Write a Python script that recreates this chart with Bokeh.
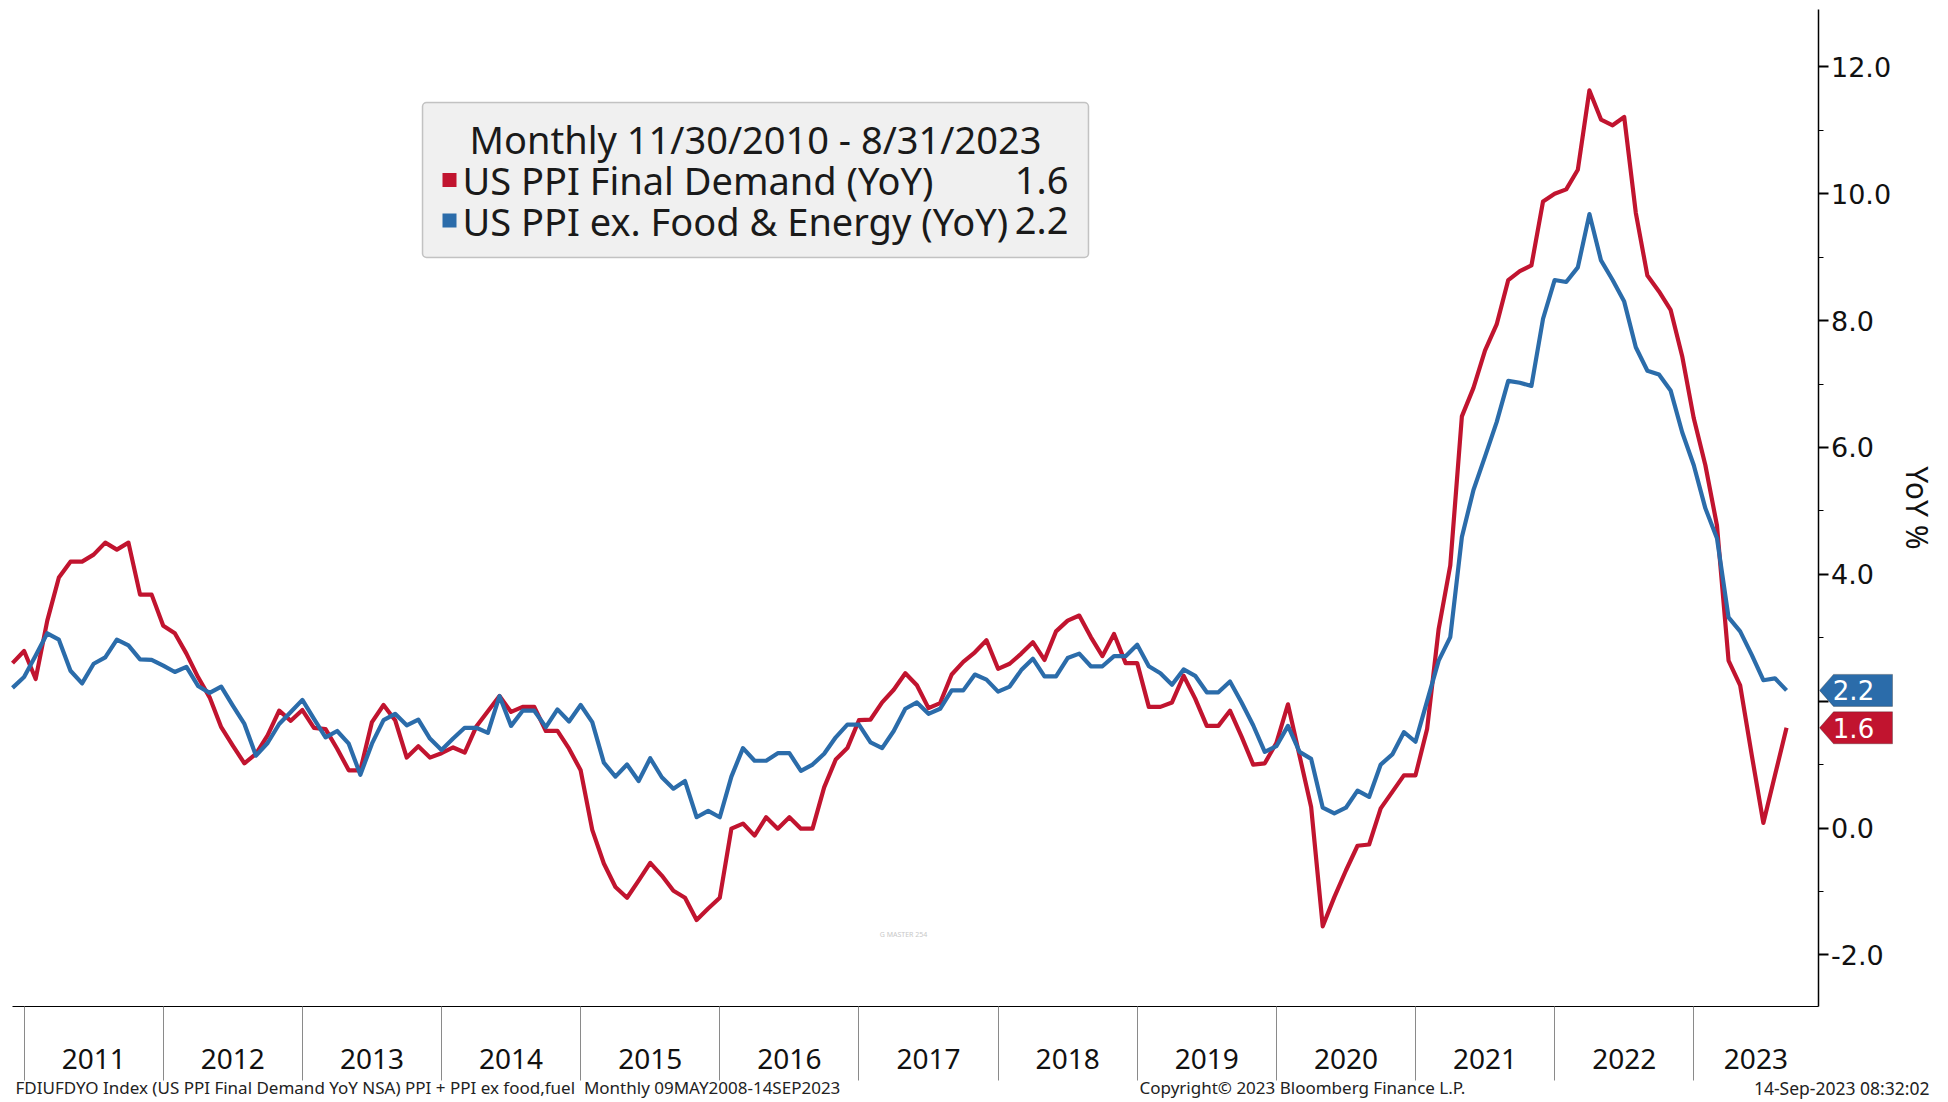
import pandas as pd
from bokeh.plotting import figure
from bokeh.models import (Range1d, FixedTicker, PrintfTickFormatter, BoxAnnotation,
                          PolyAnnotation, Label, ColumnDataSource, LinearAxis)
from bokeh.embed import file_html
from bokeh.resources import INLINE

# ---------------- data ----------------
months = pd.date_range("2010-11-30", "2023-08-31", freq="ME")

ppi_final_demand = [
    2.60, 2.79, 2.35, 3.27, 3.95, 4.20, 4.20, 4.31, 4.50, 4.39, 4.50, 3.68, 3.68, 3.19, 3.07,
    2.75, 2.38, 2.06, 1.59, 1.30, 1.02, 1.17, 1.46, 1.85, 1.69, 1.86, 1.58, 1.56, 1.25, 0.91,
    0.91, 1.67, 1.94, 1.70, 1.11, 1.29, 1.11, 1.18, 1.27, 1.19, 1.60, 1.84, 2.08, 1.83, 1.91,
    1.91, 1.53, 1.53, 1.25, 0.91, -0.03, -0.56, -0.93, -1.10, -0.83, -0.55, -0.75, -0.99, -1.10,
    -1.45, -1.27, -1.10, -0.01, 0.07, -0.12, 0.17, -0.01, 0.17, -0.01, -0.01, 0.64, 1.08, 1.26,
    1.70, 1.71, 1.98, 2.18, 2.44, 2.25, 1.89, 1.97, 2.42, 2.62, 2.77, 2.96, 2.51, 2.59, 2.75, 2.93,
    2.65, 3.10, 3.27, 3.35, 3.01, 2.71, 3.06, 2.60, 2.60, 1.91, 1.91, 1.98, 2.40, 2.04, 1.61, 1.61,
    1.85, 1.44, 1.00, 1.02, 1.34, 1.95, 1.14, 0.33, -1.55, -1.09, -0.67, -0.28, -0.26, 0.31, 0.57,
    0.83, 0.83, 1.56,
    3.14, 4.14, 6.49, 6.94, 7.53, 7.94, 8.64, 8.78, 8.87, 9.88, 10.00, 10.07, 10.38, 11.63, 11.17,
    11.08, 11.21, 9.70, 8.71, 8.46, 8.17, 7.44, 6.46, 5.72, 4.77, 2.64, 2.25, 1.15, 0.08, 0.83, 1.58,
]

ppi_ex_food_energy = [
    2.21, 2.38, 2.72, 3.07, 2.97, 2.48, 2.28, 2.59, 2.69, 2.97, 2.88, 2.66, 2.65, 2.56, 2.46,
    2.54, 2.24, 2.13, 2.23, 1.93, 1.64, 1.14, 1.34, 1.64, 1.83, 2.02, 1.72, 1.43, 1.53, 1.33,
    0.84, 1.33, 1.70, 1.80, 1.62, 1.71, 1.41, 1.23, 1.41, 1.58, 1.58, 1.50, 2.08, 1.61, 1.85,
    1.85, 1.59, 1.87, 1.68, 1.94, 1.67, 1.03, 0.81, 1.00, 0.74, 1.10, 0.80, 0.62, 0.74, 0.17,
    0.27, 0.17, 0.81, 1.26, 1.06, 1.06, 1.18, 1.18, 0.90, 1.00, 1.17, 1.43, 1.63, 1.63, 1.35,
    1.26, 1.53, 1.88, 1.98, 1.80, 1.88, 2.17, 2.17, 2.42, 2.34, 2.15, 2.23, 2.49, 2.67,
    2.39, 2.39, 2.68, 2.75, 2.55, 2.55, 2.71, 2.71, 2.89, 2.55, 2.44, 2.26, 2.50, 2.40, 2.14,
    2.14, 2.31, 1.98, 1.62, 1.20, 1.29, 1.61, 1.20, 1.09, 0.32, 0.23, 0.32, 0.59, 0.49, 1.00,
    1.16, 1.51, 1.36, 2.00, 2.64, 3.01,
    4.59, 5.33, 5.86, 6.40, 7.05, 7.02, 6.97, 8.03, 8.64, 8.61, 8.84, 9.68, 8.95, 8.64, 8.30,
    7.58, 7.21, 7.15, 6.90, 6.24, 5.72, 5.04, 4.57, 3.32, 3.10, 2.73, 2.33, 2.36, 2.17,
]

years = list(range(2011, 2024))
y_ticks = [-2, 0, 2, 4, 6, 8, 10, 12]
y_minor_ticks = [-1, 1, 3, 5, 7, 9, 11]
legend_title = "Monthly 11/30/2010 - 8/31/2023"
series_names = ["US PPI Final Demand (YoY)", "US PPI ex. Food & Energy (YoY)"]
series_colors = ["#C1142F", "#2B6CAA"]
y_axis_label = "YoY %"
footer_left = "FDIUFDYO Index (US PPI Final Demand YoY NSA) PPI + PPI ex food,fuel\u00a0 Monthly 09MAY2008-14SEP2023"
footer_mid = "Copyright\u00a9 2023 Bloomberg Finance L.P."
footer_right = "14-Sep-2023 08:32:02"
watermark = "G MASTER 254"

# ---------------- geometry (page pixels -> data) ----------------
x_vals = [d.year + d.month / 12.0 for d in months]
W, H = 1948, 1102
PX_PER_YEAR = 139.14
PX_PER_UNIT = 63.42
PX_ZERO = 827.5          # page y of 0.0
PX_FIRST = 12.0          # page x of first month


def dx(px):
    return x_vals[0] + (px - PX_FIRST) / PX_PER_YEAR


def dy(py):
    return (PX_ZERO - py) / PX_PER_UNIT


X_AX = dx(1817.5)        # where the value axis stands
Y_BASE = dy(1006.0)      # where the time axis stands
Y_TOP = dy(9.0)

p = figure(width=W, height=H, output_backend="svg", toolbar_location=None,
           x_range=Range1d(dx(0), dx(W)), y_range=Range1d(dy(H), dy(0)),
           x_axis_location=None, y_axis_location=None,
           min_border=0, min_border_left=0, min_border_right=0,
           min_border_top=0, min_border_bottom=0,
           outline_line_color=None, background_fill_color="white",
           border_fill_color="white")
p.xgrid.visible = False
p.ygrid.visible = False

FONT = "Noto Sans"
NUMFONT = "DejaVu Sans"

# time axis: year labels centred in each year, separators as minor ticks
mid = [y + 0.5 for y in years[:-1]] + [(years[-1] + X_AX) / 2.0]
xa = LinearAxis(fixed_location=Y_BASE, bounds=(x_vals[0], X_AX),
                ticker=FixedTicker(ticks=mid, minor_ticks=years))
xa.major_label_overrides = {m: str(y) for m, y in zip(mid, years)}
xa.major_tick_line_color = None
xa.major_tick_out = 0
xa.major_tick_in = 0
xa.minor_tick_out = 74
xa.minor_tick_in = 0
xa.minor_tick_line_color = "#8a8a8a"
xa.minor_tick_line_width = 1
xa.axis_line_color = "#000000"
xa.axis_line_width = 1.2
xa.major_label_standoff = -32
xa.major_label_text_font = FONT
xa.major_label_text_font_size = "28px"
xa.major_label_text_color = "#111111"
p.add_layout(xa, "below")

# value axis on the right (the 2.0 label sits under the last-value tags)
ya = LinearAxis(fixed_location=X_AX, bounds=(Y_BASE, Y_TOP),
                ticker=FixedTicker(ticks=y_ticks, minor_ticks=y_minor_ticks),
                formatter=PrintfTickFormatter(format="%.1f"))
ya.major_label_overrides = {2: ""}
ya.major_tick_out = 10
ya.major_tick_in = 0
ya.major_tick_line_width = 2
ya.minor_tick_out = 5
ya.minor_tick_in = 0
ya.major_tick_line_color = "#000000"
ya.minor_tick_line_color = "#000000"
ya.axis_line_color = "#000000"
ya.axis_line_width = 1.5
ya.major_label_standoff = 3
ya.major_label_text_font = NUMFONT
ya.major_label_text_font_size = "27px"
ya.major_label_text_color = "#111111"
ya.axis_label = y_axis_label
ya.axis_label_text_font = FONT
ya.axis_label_text_font_size = "30px"
ya.axis_label_text_font_style = "normal"
ya.axis_label_text_color = "#111111"
ya.axis_label_standoff = 2
p.add_layout(ya, "right")

# ---------------- lines ----------------
series = [ppi_final_demand, ppi_ex_food_energy]
for vals, name, col in zip(series, series_names, series_colors):
    src = ColumnDataSource(dict(x=x_vals, y=vals))
    p.line("x", "y", source=src, line_color=col, line_width=4.2, line_join="round")

# ---------------- legend box ----------------
p.add_layout(BoxAnnotation(left=dx(422), right=dx(1088), top=dy(102), bottom=dy(257),
                           fill_color="#f0f0f0", fill_alpha=1.0, line_color="#4a4a4a",
                           line_width=1.5, border_radius=4))
p.add_layout(Label(x=dx(755), y=dy(138.5), text=legend_title, text_font=FONT,
                   text_font_size="38px", text_align="center", text_baseline="middle",
                   text_color="#1a1a1a"))
for k, (vals, name, col) in enumerate(zip(series, series_names, series_colors)):
    cy = 179.5 + 40.5 * k
    p.add_layout(BoxAnnotation(left=dx(442), right=dx(456), top=dy(cy - 7), bottom=dy(cy + 7),
                               fill_color=col, fill_alpha=1.0, line_color=None))
    p.add_layout(Label(x=dx(462), y=dy(cy), text=name, text_font=FONT,
                       text_font_size="38px", text_align="left", text_baseline="middle",
                       text_color="#1a1a1a"))
    p.add_layout(Label(x=dx(1068), y=dy(cy), text=f"{vals[-1]:.1f}", text_font=FONT,
                       text_font_size="38px", text_align="right", text_baseline="middle",
                       text_color="#1a1a1a"))

# ---------------- last-value tags on the axis ----------------
half = 16.0 / PX_PER_UNIT
for vals, col in zip(series, series_colors):
    v = vals[-1]
    p.add_layout(PolyAnnotation(
        xs=[dx(1819), dx(1833), dx(1892), dx(1892), dx(1833)],
        ys=[v, v + half, v + half, v - half, v - half],
        fill_color=col, fill_alpha=1.0, line_color="#222222", line_width=1))
    p.add_layout(Label(x=dx(1853), y=v, text=f"{v:.1f}", text_font=NUMFONT,
                       text_font_size="26px", text_align="center", text_baseline="middle",
                       text_color="white"))

# ---------------- watermark & footer ----------------
p.add_layout(Label(x=dx(903), y=dy(934), text=watermark, text_font=FONT,
                   text_font_size="7px", text_align="center", text_baseline="middle",
                   text_color="#c8c8c8"))
p.add_layout(Label(x=dx(15), y=dy(1087), text=footer_left, text_font=FONT,
                   text_font_size="17px", text_align="left", text_baseline="middle",
                   text_color="#222222"))
p.add_layout(Label(x=dx(1139), y=dy(1087), text=footer_mid, text_font=FONT,
                   text_font_size="17px", text_align="left", text_baseline="middle",
                   text_color="#222222"))
p.add_layout(Label(x=dx(1929), y=dy(1087), text=footer_right, text_font=FONT,
                   text_font_size="17.5px", text_align="right", text_baseline="middle",
                   text_color="#222222"))

open("out.html", "w").write(file_html(p, INLINE))
